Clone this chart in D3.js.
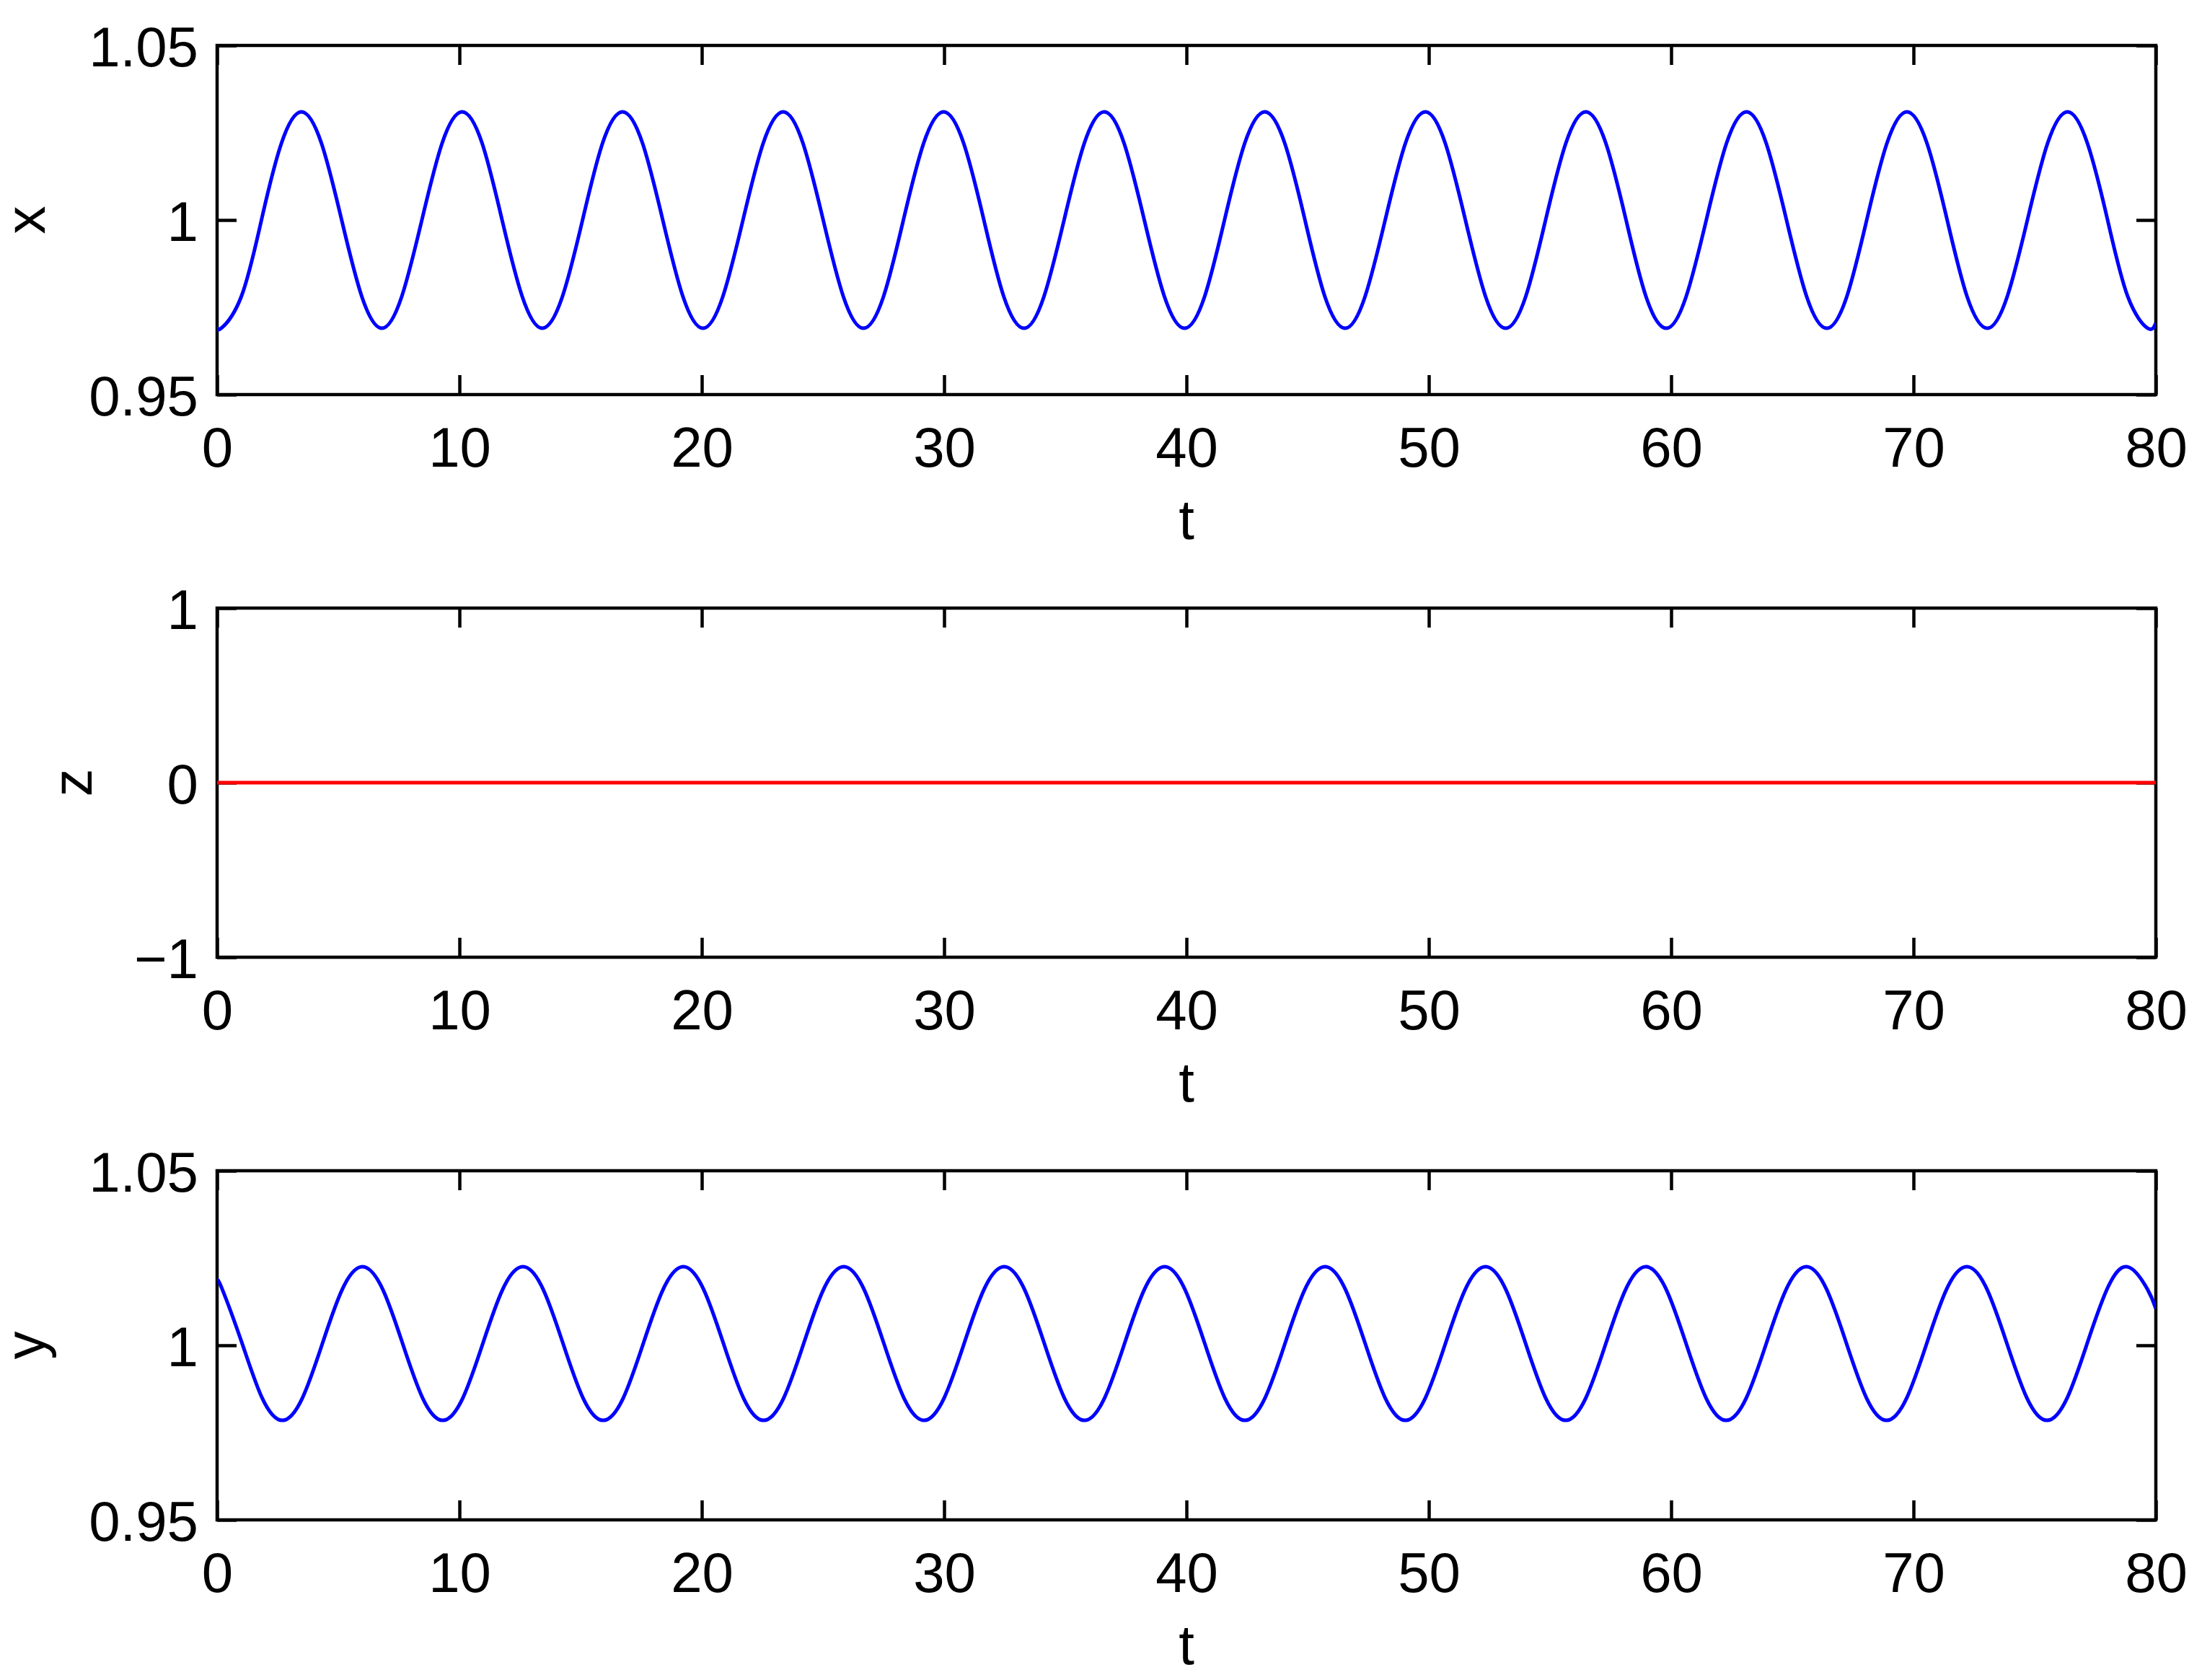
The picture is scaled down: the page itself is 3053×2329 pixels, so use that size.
<!DOCTYPE html>
<html>
<head>
<meta charset="utf-8">
<script src="https://cdn.jsdelivr.net/npm/d3@7"></script>
<style>
  html, body { margin: 0; padding: 0; background: #fff; }
  svg { display: block; }
  text { font-family: "Liberation Sans", Arial, Helvetica, sans-serif; fill: #000; }
</style>
</head>
<body>
<svg id="chart" width="3053" height="2329"></svg>
<script>
// ---- Data ----
const tTicks = [0, 10, 20, 30, 40, 50, 60, 70, 80];
const xyTicks = [0.95, 1.0, 1.05];
const xyTickLabels = ["0.95", "1", "1.05"];
const zTicks = [-1, 0, 1];
const zTickLabels = ["\u22121", "0", "1"];

// x(t): [t, value] points
const xSeries = [
  [0, 0.9694],
  [0.17, 0.969], [1.00, 0.9781], [1.83, 1.000], [2.65, 1.0219], [3.48, 1.031], [4.31, 1.0219], [5.14, 1.000], [5.97, 0.9781],
  [6.80, 0.969], [7.62, 0.9781], [8.45, 1.000], [9.28, 1.0219], [10.11, 1.031], [10.94, 1.0219], [11.76, 1.000], [12.59, 0.9781],
  [13.42, 0.969], [14.25, 0.9781], [15.08, 1.000], [15.90, 1.0219], [16.73, 1.031], [17.56, 1.0219], [18.39, 1.000], [19.22, 0.9781],
  [20.05, 0.969], [20.87, 0.9781], [21.70, 1.000], [22.53, 1.0219], [23.36, 1.031], [24.18, 1.0219], [25.01, 1.000], [25.84, 0.9781],
  [26.67, 0.969], [27.50, 0.9781], [28.32, 1.000], [29.15, 1.0219], [29.98, 1.031], [30.81, 1.0219], [31.64, 1.000], [32.46, 0.9781],
  [33.30, 0.969], [34.12, 0.9781], [34.95, 1.000], [35.78, 1.0219], [36.61, 1.031], [37.43, 1.0219], [38.26, 1.000], [39.09, 0.9781],
  [39.92, 0.969], [40.75, 0.9781], [41.57, 1.000], [42.40, 1.0219], [43.23, 1.031], [44.06, 1.0219], [44.89, 1.000], [45.71, 0.9781],
  [46.55, 0.969], [47.37, 0.9781], [48.20, 1.000], [49.03, 1.0219], [49.86, 1.031], [50.68, 1.0219], [51.51, 1.000], [52.34, 0.9781],
  [53.17, 0.969], [54.00, 0.9781], [54.82, 1.000], [55.65, 1.0219], [56.48, 1.031], [57.31, 1.0219], [58.14, 1.000], [58.96, 0.9781],
  [59.80, 0.969], [60.62, 0.9781], [61.45, 1.000], [62.28, 1.0219], [63.11, 1.031], [63.93, 1.0219], [64.76, 1.000], [65.59, 0.9781],
  [66.42, 0.969], [67.25, 0.9781], [68.07, 1.000], [68.90, 1.0219], [69.73, 1.031], [70.56, 1.0219], [71.39, 1.000], [72.21, 0.9781],
  [73.05, 0.969], [73.87, 0.9781], [74.70, 1.000], [75.53, 1.0219], [76.36, 1.031], [77.18, 1.0219], [78.01, 1.000], [78.84, 0.9781],
  [79.67, 0.969], [80.00, 0.9705]
];

// z(t): flat at zero
const zSeries = [[0, 0], [20, 0], [40, 0], [60, 0], [80, 0]];

// y(t): [t, value] points
const ySeries = [
  [0, 1.0185], [0.21, 1.0161], [1.035, 1.0005], [1.86, 0.9849],
  [2.69, 0.9785], [3.52, 0.9849], [4.345, 1.0005], [5.17, 1.0161], [6.00, 1.0225], [6.83, 1.0161], [7.655, 1.0005], [8.48, 0.9849],
  [9.31, 0.9785], [10.14, 0.9849], [10.965, 1.0005], [11.79, 1.0161], [12.62, 1.0225], [13.45, 1.0161], [14.275, 1.0005], [15.10, 0.9849],
  [15.93, 0.9785], [16.76, 0.9849], [17.585, 1.0005], [18.41, 1.0161], [19.24, 1.0225], [20.07, 1.0161], [20.895, 1.0005], [21.72, 0.9849],
  [22.55, 0.9785], [23.38, 0.9849], [24.205, 1.0005], [25.03, 1.0161], [25.86, 1.0225], [26.69, 1.0161], [27.515, 1.0005], [28.34, 0.9849],
  [29.17, 0.9785], [30.00, 0.9849], [30.825, 1.0005], [31.65, 1.0161], [32.48, 1.0225], [33.31, 1.0161], [34.135, 1.0005], [34.96, 0.9849],
  [35.79, 0.9785], [36.62, 0.9849], [37.445, 1.0005], [38.27, 1.0161], [39.10, 1.0225], [39.93, 1.0161], [40.755, 1.0005], [41.58, 0.9849],
  [42.41, 0.9785], [43.24, 0.9849], [44.065, 1.0005], [44.89, 1.0161], [45.72, 1.0225], [46.55, 1.0161], [47.375, 1.0005], [48.20, 0.9849],
  [49.03, 0.9785], [49.86, 0.9849], [50.685, 1.0005], [51.51, 1.0161], [52.34, 1.0225], [53.17, 1.0161], [53.995, 1.0005], [54.82, 0.9849],
  [55.65, 0.9785], [56.48, 0.9849], [57.305, 1.0005], [58.13, 1.0161], [58.96, 1.0225], [59.79, 1.0161], [60.615, 1.0005], [61.44, 0.9849],
  [62.27, 0.9785], [63.10, 0.9849], [63.925, 1.0005], [64.75, 1.0161], [65.58, 1.0225], [66.41, 1.0161], [67.235, 1.0005], [68.06, 0.9849],
  [68.89, 0.9785], [69.72, 0.9849], [70.545, 1.0005], [71.37, 1.0161], [72.20, 1.0225], [73.03, 1.0161], [73.855, 1.0005], [74.68, 0.9849],
  [75.51, 0.9785], [76.34, 0.9849], [77.165, 1.0005], [77.99, 1.0161], [78.82, 1.0225], [79.65, 1.0161], [80.00, 1.0105]
];

// ---- Layout ----
const svg = d3.select("#chart");
const left = 301, right = 2989;
const panelH = 484;
const FS = 78;
const FONT = '"Liberation Sans", Arial, Helvetica, sans-serif';

const panels = [
  { top: 63,   label: "x", labelX: 62,  data: xSeries, color: "#0000ff", domain: [0.95, 1.05], ticks: xyTicks, tickLabels: xyTickLabels },
  { top: 843,  label: "z", labelX: 127, data: zSeries, color: "#ff0000", domain: [-1, 1],       ticks: zTicks,  tickLabels: zTickLabels },
  { top: 1623, label: "y", labelX: 62,  data: ySeries, color: "#0000ff", domain: [0.95, 1.05], ticks: xyTicks, tickLabels: xyTickLabels }
];

const xScale = d3.scaleLinear().domain([0, 80]).range([left, right]);

panels.forEach((p, i) => {
  const top = p.top, bottom = p.top + panelH;
  const yScale = d3.scaleLinear().domain(p.domain).range([bottom, top]);
  const g = svg.append("g");

  const axB = g.append("g").attr("transform", `translate(0,${bottom})`)
    .call(d3.axisBottom(xScale).tickValues(tTicks).tickFormat(d3.format("d")).tickSize(-27).tickSizeOuter(0));
  const axT = g.append("g").attr("transform", `translate(0,${top})`)
    .call(d3.axisTop(xScale).tickValues(tTicks).tickFormat("").tickSize(-27).tickSizeOuter(0));
  const axL = g.append("g").attr("transform", `translate(${left},0)`)
    .call(d3.axisLeft(yScale).tickValues(p.ticks).tickFormat((d, k) => p.tickLabels[k]).tickSize(-27).tickSizeOuter(0));
  const axR = g.append("g").attr("transform", `translate(${right},0)`)
    .call(d3.axisRight(yScale).tickValues(p.ticks).tickFormat("").tickSize(-27).tickSizeOuter(0));

  [axB, axT, axL, axR].forEach(a => {
    a.select(".domain").remove();
    a.selectAll(".tick line").attr("stroke", "#000").attr("stroke-width", 4.5);
  });

  axB.selectAll(".tick text")
    .attr("y", 100).attr("dy", null)
    .attr("font-size", FS).attr("fill", "#000")
    .style("font-family", FONT);
  axL.selectAll(".tick text")
    .attr("x", -(left - 275)).attr("dy", null).attr("y", 28)
    .attr("text-anchor", "end")
    .attr("font-size", FS).attr("fill", "#000")
    .style("font-family", FONT);

  g.append("rect")
    .attr("x", left).attr("y", top)
    .attr("width", right - left).attr("height", panelH)
    .attr("fill", "none").attr("stroke", "#000").attr("stroke-width", 4.5);

  const clipId = "clip" + i;
  svg.append("clipPath").attr("id", clipId).append("rect")
    .attr("x", left).attr("y", top - 3).attr("width", right - left).attr("height", panelH + 6);
  g.append("path")
    .datum(p.data)
    .attr("clip-path", `url(#${clipId})`)
    .attr("fill", "none")
    .attr("stroke", p.color)
    .attr("stroke-width", 5)
    .attr("stroke-linejoin", "round")
    .attr("d", d3.line().x(d => xScale(d[0])).y(d => yScale(d[1])).curve(d3.curveNatural));

  g.append("text")
    .attr("x", (left + right) / 2).attr("y", bottom + 200)
    .attr("text-anchor", "middle").attr("font-size", FS)
    .text("t");
  g.append("text")
    .attr("transform", `translate(${p.labelX},${(top + bottom) / 2}) rotate(-90)`)
    .attr("text-anchor", "middle").attr("font-size", FS)
    .text(p.label);
});
</script>
</body>
</html>
